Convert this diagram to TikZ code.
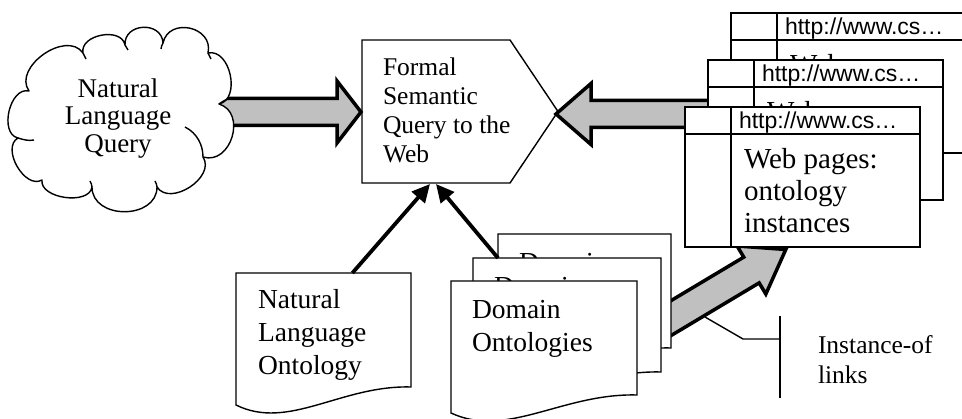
\documentclass[tikz,border=0pt]{standalone}
\usepackage{fontspec}
\setmainfont{Liberation Serif}
\newfontfamily\httpfont{Liberation Sans}
\usetikzlibrary{calc,arrows.meta}
\definecolor{arrowgray}{HTML}{C0C0C0}

% fat arrow: #1 start, #2 tip, #3 shaft half width, #4 head half width, #5 head length
\newcommand\fatarrow[5]{%
  \coordinate (fatH) at ($(#2)!#5!(#1)$);
  \draw[fatline] ($(#1)!#3!90:(#2)$) -- ($(fatH)!#3!90:(#2)$) -- ($(fatH)!#4!90:(#2)$) -- (#2)
     -- ($(fatH)!#4!-90:(#2)$) -- ($(fatH)!#3!-90:(#2)$) -- ($(#1)!#3!-90:(#2)$) -- cycle;}

% document outline with wavy bottom
\newcommand\docpath[1]{(#1.north west) -- (#1.north east) -- (#1.south east)
  .. controls ($(#1.south west)!0.6!(#1.south east)+(0,-2)$) and ($(#1.south west)!0.3!(#1.south east)+(0,44)$)
  .. ($(#1.south west)+(0,18)$) -- cycle}

\tikzset{
  fatline/.style={draw=black, line width=3.5pt, fill=arrowgray, line join=miter},
  thinline/.style={line width=1.4pt},
  puff/.style={bend left=90, looseness=#1},
  frame/.style={inner sep=0pt, outer sep=0pt, anchor=north west},
  page/.style={draw, line width=1.4pt, fill=white, inner sep=0pt, outer sep=0pt, anchor=north west,
    minimum width=235pt, minimum height=140pt},
  txt/.style={inner sep=0pt, outer sep=0pt, anchor=north west, align=left},
  httptxt/.style={txt, font=\httpfont\fontsize{23}{24}\selectfont},
  webtxt/.style={txt, font=\fontsize{29}{32}\selectfont},
  doctxt/.style={txt, font=\fontsize{27.5}{33.3}\selectfont},
  formaltxt/.style={txt, font=\fontsize{25.5}{29}\selectfont},
  insttxt/.style={txt, font=\fontsize{25.5}{30}\selectfont},
  cloudtxt/.style={inner sep=0pt, outer sep=0pt, anchor=north, align=center, font=\fontsize{27}{27.5}\selectfont},
  thinarrow/.style={line width=3.8pt, -{Triangle[length=18pt,width=17pt]}},
}

\begin{document}
\begin{tikzpicture}[x=1pt, y=-1pt]
\useasboundingbox (0,0) rectangle (962,419);

% Formal semantic query
\node[frame, minimum width=148pt, minimum height=143pt] (fq) at (362,40) {};
\coordinate (fqtip) at (558,111.5);
\draw[thinline] (fq.north west) -- (fq.north east) -- (fqtip) -- (fq.south east) -- (fq.south west) -- cycle;
\node[formaltxt] (fqt) at (383,57.5) {Formal\\Semantic\\Query to the\\Web};

% fat arrows
\coordinate (a1s) at (200,112);
\coordinate (a1t) at (361,112);
\fatarrow{a1s}{a1t}{13.5pt}{31pt}{24pt}
\coordinate (a2s) at (720,114);
\coordinate (a2t) at (556,114);
\fatarrow{a2s}{a2t}{13.5pt}{30.5pt}{35pt}
\coordinate (a3s) at (639.9,336.7);
\coordinate (a3t) at (785.8,249.5);
\fatarrow{a3s}{a3t}{15pt}{28pt}{40pt}

% cloud
\coordinate (c0) at (29,91);
\coordinate (c1) at (83,53);
\coordinate (c2) at (125,45);
\coordinate (c3) at (163,43);
\coordinate (c4) at (208,53);
\coordinate (c5) at (219,104);
\coordinate (c6) at (203,157);
\coordinate (c7) at (157,187);
\coordinate (c8) at (92,187);
\coordinate (c9) at (42,180);
\coordinate (c10) at (18,138);
\draw[thinline, fill=white, line join=round]
  (c0) to[puff=1.12] (c1) to[puff=1.12] (c2) to[puff=1.5] (c3) to[puff=1.5] (c4)
  to[puff=1.12] (c5) to[puff=1.36] (c6) to[puff=1.12] (c7) to[puff=1.3] (c8)
  to[puff=0.95] (c9) to[puff=1.05] (c10) to[puff=1.05] (c0) -- cycle;
% inner arcs of the cloud
\draw[thinline] (c6) .. controls (203,145) and (197,133) .. (185,127);
\draw[thinline] (c10) .. controls (24,140) and (29,141) .. (34,140);
\draw[thinline] (c5) .. controls (223,101) and (227,99) .. (231,98);
\draw[thinline] (c1) .. controls (84,55) and (85,57) .. (86,59);
\draw[thinline] (c2) .. controls (126,47) and (127,48) .. (128,50);
\draw[thinline] (c3) .. controls (162,45) and (161,47) .. (161,49);
\draw[thinline] (c4) .. controls (209,55) and (210,57) .. (211,59);
\draw[thinline] (c7) .. controls (157,185) and (156,183) .. (155,181);
\draw[thinline] (c8) .. controls (92,185) and (91,183) .. (90,181);
\node[cloudtxt] (nlq) at (118,78.3) {Natural\\Language\\Query};

% natural language ontology
\node[frame, minimum width=175pt, minimum height=114pt] (nlo) at (236,273) {};
\draw[thinline, fill=white] \docpath{nlo};
\node[doctxt] (nlot) at (258,289) {Natural\\Language\\Ontology};

% domain ontologies
\foreach \n/\x/\y/\w in {d1/498/234/173, d2/473/258/188, d3/451/281/186} {
  \node[frame, minimum width=\w pt, minimum height=114pt] (\n) at (\x,\y) {};
  \draw[thinline, fill=white] \docpath{\n};
  \node[doctxt] (\n-t) at ($(\n.north west)+(21,19)$) {Domain\\Ontologies};
}

% thin arrows
\coordinate (a4s) at ($(nlo.north west)!0.665!(nlo.north east)$);
\coordinate (a4t) at (430,184);
\draw[thinarrow] (a4s) -- (a4t);
\coordinate (a5s) at (d1.west |- d2.north);
\coordinate (a5t) at (436,184);
\draw[thinarrow] (a5s) -- (a5t);

% web pages
\foreach \n/\x/\y in {w1/731/13, w2/708/60, w3/685/107} {
  \node[page] (\n) at (\x,\y) {};
  \draw[thinline] ($(\n.north west)+(0,27)$) -- ($(\n.north east)+(0,27)$);
  \draw[thinline] ($(\n.north west)+(46,0)$) -- ($(\n.south west)+(46,0)$);
  \node[httptxt] (\n-h) at ($(\n.north west)+(54,4.5)$) {http://www.cs…};
  \node[webtxt] (\n-t) at ($(\n.north west)+(59,41)$) {Web pages:\\ontology\\instances};
}

% instance-of callout
\coordinate (ci1) at (705,317);
\coordinate (ci2) at (743,339);
\coordinate (ci3) at (780,339);
\coordinate (cv1) at (780,316);
\coordinate (cv2) at (780,398);
\draw[thinline] (ci1) -- (ci2) -- (ci3);
\draw[thinline] (cv1) -- (cv2);
\node[insttxt] (inst) at (818,335.6) {Instance-of\\links};
\end{tikzpicture}
\end{document}
